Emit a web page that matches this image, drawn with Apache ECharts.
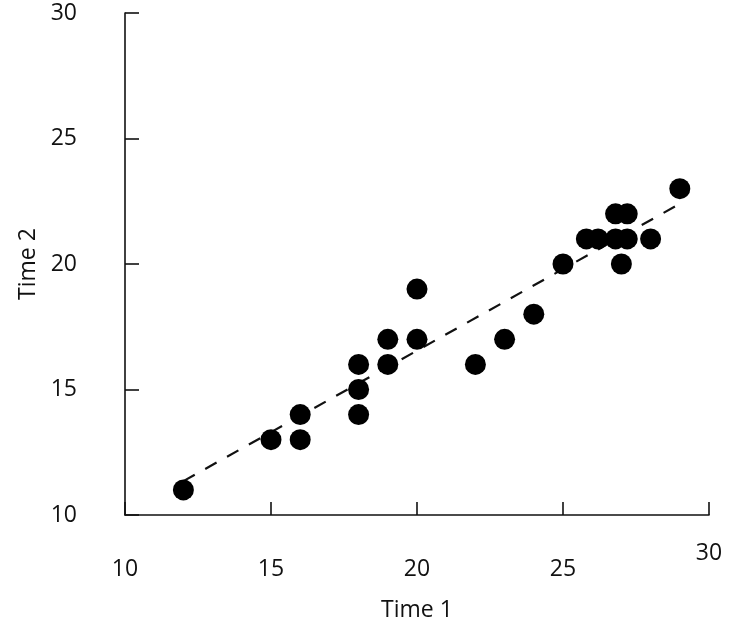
<!DOCTYPE html>
<html>
<head>
<meta charset="utf-8">
<script src="https://cdn.jsdelivr.net/npm/echarts@6/dist/echarts.min.js"></script>
<style>
html,body{margin:0;padding:0;background:#fff;}
#chart{width:736px;height:636px;}
</style>
</head>
<body>
<div id="chart"></div>
<script>
const time1 = [12, 15, 16, 16, 18, 18, 18, 19, 19, 20, 20, 22, 23, 24, 25, 25.8, 26.2, 26.8, 26.8, 27, 27.2, 27.2, 28, 29];
const time2 = [11, 13, 13, 14, 14, 15, 16, 16, 17, 17, 19, 16, 17, 18, 20, 21, 21, 22, 21, 20, 22, 21, 21, 23];
const fitX = [12, 28.85];
const fitY = [11.35, 22.3];
const xTicks = [10, 15, 20, 25, 30];
const yTicks = [10, 15, 20, 25, 30];
const xName = 'Time 1';
const yName = 'Time 2';

const points = time1.map((x, i) => [x, time2[i]]);
const fit = fitX.map((x, i) => [x, fitY[i]]);
const FONT = '"Open Sans", sans-serif';

const chart = echarts.init(document.getElementById('chart'), null, {renderer: 'canvas'});
chart.setOption({
  animation: false,
  backgroundColor: '#fff',
  grid: {left: 125, right: 27, top: 13, bottom: 121, containLabel: false},
  xAxis: {
    type: 'value', min: xTicks[0], max: xTicks[xTicks.length - 1], interval: 5,
    name: xName, nameLocation: 'middle', nameGap: 84,
    nameTextStyle: {fontFamily: FONT, fontSize: 23, color: '#111'},
    axisLine: {show: true, onZero: false, lineStyle: {color: '#111', width: 1.6}},
    axisTick: {show: true, inside: true, length: 13, lineStyle: {color: '#111', width: 1.6}},
    splitLine: {show: false},
    axisLabel: {
      margin: 25,
      fontFamily: FONT, fontSize: 23, color: '#111',
      formatter: v => v === 30 ? '{a|' + v + '}' : '{s| }\n{a|' + v + '}',
      rich: {
        a: {fontFamily: FONT, fontSize: 23, color: '#111', lineHeight: 26},
        s: {fontSize: 10, lineHeight: 16}
      }
    }
  },
  yAxis: {
    type: 'value', min: yTicks[0], max: yTicks[yTicks.length - 1], interval: 5,
    name: yName, nameLocation: 'middle', nameGap: 85, nameRotate: 90,
    nameTextStyle: {fontFamily: FONT, fontSize: 23, color: '#111'},
    axisLine: {show: true, onZero: false, lineStyle: {color: '#111', width: 1.6}},
    axisTick: {show: true, inside: true, length: 14, lineStyle: {color: '#111', width: 1.6}},
    splitLine: {show: false},
    axisLabel: {margin: 48, fontFamily: FONT, fontSize: 23, color: '#111'}
  },
  series: [
    {
      type: 'line', data: fit, symbol: 'none', z: 1,
      lineStyle: {color: '#111', width: 2.2, type: [13, 12]}
    },
    {
      type: 'scatter', data: points, symbol: 'circle', symbolSize: 21, z: 3,
      itemStyle: {color: '#000', opacity: 1}
    }
  ]
});
</script>
</body>
</html>
